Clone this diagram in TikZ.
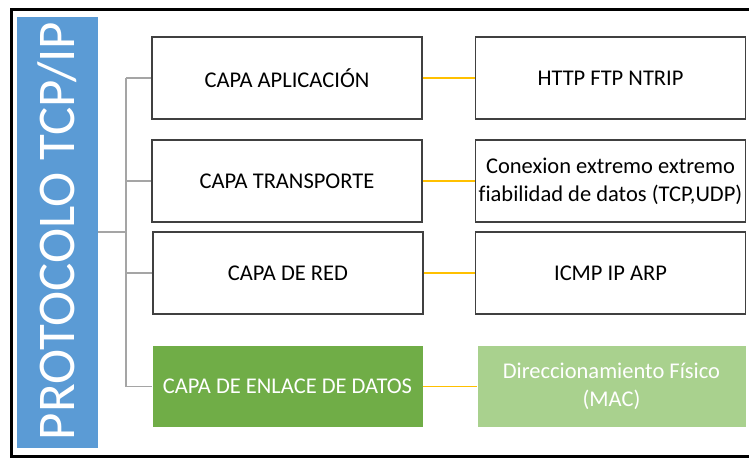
\documentclass[tikz,border=0pt]{standalone}
\usepackage{fontspec}
\setmainfont{Carlito}[Ligatures=NoCommon]
\definecolor{tcpblue}{HTML}{5B9BD5}
\definecolor{darkgreen}{HTML}{70AD47}
\definecolor{lightgreen}{HTML}{A9D18E}
\definecolor{linkyellow}{HTML}{FFC000}
\definecolor{treegray}{HTML}{A5A5A5}
\definecolor{boxline}{HTML}{404040}
\tikzset{
  layerbox/.style={draw=boxline, line width=1.4pt, fill=white, minimum width=270pt,
    minimum height=82pt, inner sep=0pt, font=\fontsize{22.5}{28}\selectfont, align=center},
  greenbox/.style={layerbox, draw=none, fill=darkgreen, text=white},
  lightbox/.style={layerbox, draw=none, fill=lightgreen, text=white},
  yellowlink/.style={draw=linkyellow, line width=1.6pt},
  treeline/.style={draw=treegray, line width=1.6pt},
}
\begin{document}
\begin{tikzpicture}[x=1pt, y=-1pt]
  \useasboundingbox (0,0) rectangle (749,459);
  % outer frame
  \draw[line width=3pt, line cap=rect] (749,9.5) -- (11,9.5) -- (11,456.5) -- (749,456.5);
  % title bar
  \node[fill=tcpblue, minimum width=81pt, minimum height=431pt, inner sep=0pt,
        anchor=north west] (title) at (17,17) {};
  \node[rotate=90, text=white, font=\fontsize{53}{60}\selectfont] (titletext)
        at (57,231) {PROTOCOLO TCP/IP};
  % layers
  \node[layerbox] (app) at (287,78) {CAPA APLICACIÓN};
  \node[layerbox] (trans) at (287,181) {CAPA TRANSPORTE};
  \node[layerbox] (red) at (288,273) {CAPA DE RED};
  \node[greenbox, minimum height=81pt] (enl) at (287.5,386.5) {CAPA DE ENLACE DE DATOS};
  % protocols
  \node[layerbox] (appP) at (610.5,78) {HTTP FTP NTRIP};
  \node[layerbox] (transP) at (610.5,181) {Conexion extremo extremo\\fiabilidad de datos (TCP,UDP)};
  \node[layerbox] (redP) at (610.5,273) {ICMP IP ARP};
  \node[lightbox, minimum width=268pt, minimum height=81pt] (enlP) at (611.5,386.5)
        {Direccionamiento Físico\\(MAC)};
  % links between layer and protocols
  \draw[yellowlink] (app.east) -- (appP.west);
  \draw[yellowlink] (trans.east) -- (transP.west);
  \draw[yellowlink] (red.east) -- (redP.west);
  \draw[yellowlink] (enl.east) -- (enlP.west);
  % tree from title to layers
  \coordinate (trunk) at (126,232);
  \draw[treeline] (title.east |- trunk) -- (trunk);
  \draw[treeline] (126,78) -- (126,386.5);
  \draw[treeline] (126,78) -- (app.west);
  \draw[treeline] (126,181) -- (trans.west);
  \draw[treeline] (126,273) -- (red.west);
  \draw[treeline] (126,386.5) -- (enl.west);
\end{tikzpicture}
\end{document}
